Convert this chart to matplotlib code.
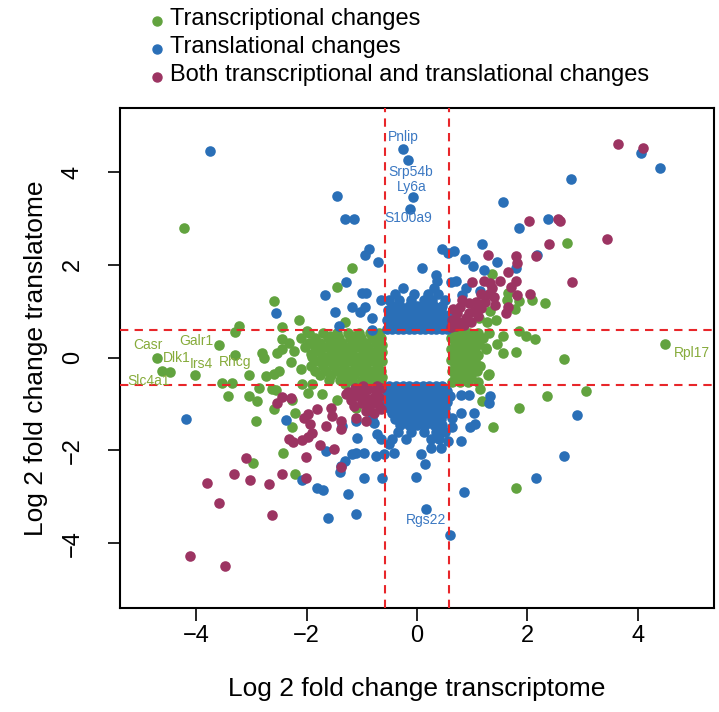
import numpy as np
import matplotlib
matplotlib.use("Agg")
import matplotlib.pyplot as plt

plt.rcParams['font.family'] = ['Liberation Sans', 'DejaVu Sans']

# ---- data (log2 fold changes) ----
cutoff = 0.585

labels = ["Transcriptional changes", "Translational changes",
          "Both transcriptional and translational changes"]
colors = ["#62a33f", "#2a6fb7", "#9c3462"]

# transcriptional changes: sparse points
green_pts = [
    (-4.22, 2.79), (-4.71, 0.0), (-4.62, -0.28), (-4.47, -0.32), (-3.59, 0.28),
    (-4.02, -0.37), (-3.30, 0.06), (-3.53, -0.54), (-3.35, -0.54), (-3.42, -0.84),
    (-3.22, 0.69), (-3.30, 0.56), (-3.04, -0.37), (-3.04, -0.82), (-2.90, -0.93),
    (-2.92, -1.36), (-2.59, -1.10), (-2.26, -0.91), (-2.21, -1.19), (-2.26, -1.49),
    (-2.43, -2.05), (-2.97, -2.27), (-2.21, -2.51), (-1.97, -0.76), (-1.72, -0.78),
    (-1.45, -0.91), (-1.11, -1.08), (-1.18, 1.92), (-1.45, 1.51), (-2.59, 1.21),
    (-2.14, 0.82), (-2.45, 0.65), (-1.99, 0.58), (-1.30, 0.76), (-2.81, 0.09),
    (-2.78, 0.0), (-2.74, -0.39), (-2.59, -0.35), (-2.50, -0.28), (-2.55, -0.71),
    (-2.62, -0.68), (-2.86, -0.65), (-2.45, 0.19), (-2.54, 0.09), (-2.28, -0.09),
    (-2.10, -0.24), (-2.08, -0.56), (-1.90, -0.56), (-2.45, 0.41), (-2.32, 0.32),
    (-2.23, 0.15),
    (4.49, 0.30), (2.66, -0.04), (3.06, -0.73), (2.36, -0.84), (2.32, 1.17),
    (2.08, 1.23), (2.14, 0.41), (1.97, 0.47), (1.85, 0.58), (1.85, -1.08),
    (1.38, -1.49), (1.79, -2.81), (1.29, -0.37), (1.79, 0.11), (1.56, 0.09),
    (1.56, 0.47), (1.45, 0.30), (1.18, -0.93), (1.14, -0.67), (1.25, 0.20),
    (2.72, 2.46), (1.85, 1.21), (1.78, 1.04), (1.65, 1.40), (1.63, 1.23),
    (1.36, 1.81), (1.32, 1.01), (1.43, 0.80), (1.27, 0.76), (1.12, 0.86),
    (1.30, -0.35),
]
# transcriptional changes: dense bands (y, list of x)
green_left_rows = [
    (0.52, [-1.95, -1.70, -1.45, -1.25, -1.05, -0.85, -0.68]),
    (0.47, [-1.58, -1.15, -0.76]),
    (0.42, [-2.10, -1.85, -1.62, -1.42, -1.22, -1.02, -0.82, -0.65]),
    (0.32, [-1.95, -1.75, -1.55, -1.35, -1.15, -0.95, -0.75]),
    (0.27, [-1.46, -1.05, -0.64]),
    (0.22, [-2.02, -1.85, -1.65, -1.45, -1.25, -1.05, -0.88, -0.68]),
    (0.12, [-1.75, -1.55, -1.38, -1.18, -0.98, -0.78, -0.63]),
    (0.07, [-1.92, -1.28, -0.86]),
    (0.02, [-1.90, -1.68, -1.48, -1.30, -1.10, -0.90, -0.70]),
    (-0.08, [-1.80, -1.60, -1.40, -1.20, -1.00, -0.80, -0.64]),
    (-0.13, [-1.52, -1.08, -0.70]),
    (-0.18, [-1.92, -1.70, -1.50, -1.32, -1.12, -0.92, -0.72]),
    (-0.28, [-1.85, -1.65, -1.45, -1.25, -1.05, -0.85, -0.66]),
    (-0.38, [-1.75, -1.55, -1.35, -1.15, -0.95, -0.75]),
    (-0.43, [-1.25, -0.85, -0.63]),
    (-0.48, [-1.60, -1.40, -1.20, -1.00, -0.80, -0.65]),
    (-0.56, [-1.30, -1.10, -0.90, -0.70]),
]
green_right_rows = [
    (0.52, [0.65, 0.80, 0.95, 1.10, 1.30]),
    (0.42, [0.62, 0.75, 0.90, 1.05, 1.20]),
    (0.30, [0.68, 0.82, 0.97, 1.12]),
    (0.18, [0.62, 0.75, 0.90, 1.05, 1.25]),
    (0.06, [0.66, 0.80, 0.95, 1.10]),
    (-0.06, [0.62, 0.75, 0.90, 1.05]),
    (-0.18, [0.68, 0.82, 0.97, 1.15]),
    (-0.30, [0.63, 0.77, 0.92, 1.08]),
    (-0.42, [0.68, 0.82, 0.97]),
    (-0.52, [0.64, 0.78, 0.92, 1.10]),
]

# translational changes: sparse points
blue_pts = [
    (-3.75, 4.45), (-0.25, 4.49), (-0.16, 4.25), (-0.07, 3.46), (-0.13, 3.20),
    (-1.45, 3.48), (-1.30, 2.98), (-1.14, 2.98), (-0.87, 2.35), (-0.94, 2.22),
    (-0.71, 2.07), (-1.29, 1.62), (-1.67, 1.34), (-1.00, 1.40), (-0.92, 1.40),
    (-2.55, 0.95), (-1.49, 0.99), (-1.18, 1.10), (-1.03, 0.99), (-0.94, 1.08),
    (-1.41, 0.69), (-0.82, 0.86), (-0.82, 0.60), (-0.65, 1.25),
    (2.79, 3.84), (1.56, 3.35), (1.85, 2.79), (2.37, 2.98), (4.06, 4.40),
    (4.40, 4.08), (1.18, 2.44), (1.45, 2.07), (2.17, 2.22), (0.87, 2.12),
    (1.01, 1.97), (1.21, 1.88), (0.45, 2.35), (0.56, 2.25), (0.67, 2.29),
    (0.09, 1.92), (0.34, 1.79), (0.36, 1.66), (0.62, 1.62), (0.70, 1.64),
    (1.79, 1.92), (0.89, 1.49), (0.82, 1.34), (1.14, 1.43),
    (-4.18, -1.32), (0.16, -3.26), (0.60, -3.83), (2.90, -1.23), (2.66, -2.12),
    (2.16, -2.59), (0.85, -2.89), (-0.02, -2.57), (0.14, -2.29), (0.07, -2.07),
    (0.80, -1.79), (0.80, -1.19), (1.03, -1.19), (0.96, -1.49), (1.05, -1.43),
    (1.32, -0.82), (1.30, -0.97), (0.94, -0.80), (0.80, -0.80), (0.63, -1.30),
    (0.63, -1.49), (0.56, -1.79), (0.43, -1.95), (0.25, -1.95),
    (-2.37, -1.34), (-1.61, -3.46), (-1.10, -3.37), (-1.25, -2.94), (-1.81, -2.81),
    (-1.70, -2.85), (-2.08, -2.64), (-0.96, -2.59), (-0.63, -2.59), (-1.39, -2.46),
    (-1.37, -2.33), (-1.30, -2.22), (-1.65, -2.01), (-1.18, -2.07), (-1.10, -2.05),
    (-0.96, -2.05), (-0.74, -2.12), (-0.60, -2.07), (-0.51, -1.86), (-0.42, -2.05),
    (-1.09, -1.73), (-0.72, -1.64), (-0.82, -1.30), (-0.78, -1.42), (-1.11, -1.36),
    (-1.36, -1.47), (-0.65, -1.75),
]
# translational changes: dense clusters (y, list of x)
blue_up_rows = [
    (0.62, [-0.55, -0.45, -0.35, -0.25, -0.15, -0.05, 0.05, 0.15, 0.25, 0.35, 0.45, 0.55]),
    (0.72, [-0.50, -0.40, -0.30, -0.20, -0.10, 0.00, 0.10, 0.20, 0.30, 0.40, 0.50, 0.60]),
    (0.82, [-0.55, -0.45, -0.35, -0.25, -0.15, -0.05, 0.05, 0.15, 0.25, 0.35, 0.45, 0.55]),
    (0.92, [-0.50, -0.38, -0.26, -0.14, -0.02, 0.10, 0.22, 0.34, 0.46, 0.58]),
    (1.02, [-0.52, -0.40, -0.28, -0.16, -0.04, 0.08, 0.20, 0.32, 0.44]),
    (1.12, [-0.45, -0.30, -0.15, 0.00, 0.15, 0.30, 0.45]),
    (1.24, [-0.50, -0.32, -0.10, 0.12, 0.28, 0.50]),
    (1.38, [-0.40, -0.05, 0.20, 0.38]),
    (1.50, [-0.25, 0.30]),
]
blue_down_rows = [
    (-0.62, [-0.50, -0.38, -0.26, -0.14, -0.02, 0.10, 0.22, 0.34, 0.46]),
    (-0.72, [-0.55, -0.45, -0.35, -0.25, -0.15, -0.05, 0.05, 0.15, 0.25, 0.35, 0.45, 0.55]),
    (-0.84, [-0.50, -0.40, -0.30, -0.20, -0.10, 0.00, 0.10, 0.20, 0.30, 0.40, 0.50, 0.60]),
    (-0.96, [-0.55, -0.45, -0.35, -0.25, -0.15, -0.05, 0.05, 0.15, 0.25, 0.35, 0.45, 0.55]),
    (-1.08, [-0.50, -0.40, -0.30, -0.20, -0.10, 0.00, 0.10, 0.20, 0.30, 0.40, 0.50]),
    (-1.20, [-0.45, -0.33, -0.21, -0.09, 0.03, 0.15, 0.27, 0.39, 0.51]),
    (-1.32, [-0.40, -0.28, -0.16, -0.04, 0.08, 0.20, 0.32, 0.44]),
    (-1.45, [-0.30, -0.15, 0.00, 0.15, 0.30, 0.45]),
    (-1.60, [-0.35, -0.10, 0.12, 0.35, 0.50]),
    (-1.75, [-0.45, -0.20, 0.25, 0.40]),
]

# both transcriptional and translational changes
both_pts = [
    (3.64, 4.60), (4.09, 4.51), (3.44, 2.55), (2.81, 1.62), (2.55, 2.98),
    (2.59, 2.94), (2.03, 2.94), (2.39, 2.44), (2.16, 2.18), (1.79, 2.18),
    (1.81, 2.03), (1.29, 2.20), (1.65, 1.84), (1.79, 1.66), (1.50, 1.64),
    (1.70, 1.51), (1.00, 1.62), (1.21, 1.66), (1.32, 1.60), (2.05, 1.38),
    (1.81, 1.34), (1.65, 1.08), (1.61, 0.97), (1.39, 1.30), (1.41, 1.14),
    (1.30, 1.38), (1.16, 1.38), (0.82, 1.23), (0.94, 1.17), (1.07, 1.19),
    (1.03, 1.01), (1.16, 1.06), (0.72, 0.95), (0.89, 0.86), (0.63, 0.80),
    (0.76, 0.76), (0.62, 0.65), (0.98, 0.76), (0.70, 0.68), (0.85, 0.70),
    (0.66, 1.05), (0.78, 1.08), (0.95, 0.95), (1.10, 0.90), (1.23, 1.20),
    (1.35, 1.50),
    (-4.11, -4.28), (-3.48, -4.49), (-3.80, -2.70), (-3.59, -3.13), (-3.32, -2.51),
    (-3.10, -2.16), (-3.03, -2.64), (-2.68, -2.72), (-2.63, -3.39), (-2.45, -2.51),
    (-2.01, -2.59), (-2.01, -2.14), (-2.45, -0.86), (-2.28, -0.88), (-2.54, -0.99),
    (-2.05, -1.30), (-1.98, -1.22), (-1.94, -1.43), (-1.81, -1.12), (-1.56, -1.08),
    (-1.54, -1.25), (-1.65, -1.47), (-1.38, -1.36), (-1.38, -1.53), (-1.90, -1.62),
    (-1.97, -1.71), (-2.08, -1.77), (-2.32, -1.75), (-2.25, -1.82), (-1.76, -1.88),
    (-1.50, -1.97), (-1.38, -2.35), (-1.29, -0.78), (-1.18, -0.86), (-1.11, -1.30),
    (-0.92, -1.36),
    (-0.65, -0.65), (-0.75, -0.72), (-0.88, -0.68), (-1.00, -0.70), (-1.12, -0.66),
    (-1.25, -0.75), (-0.68, -0.85), (-0.80, -0.88), (-0.95, -0.85), (-1.08, -0.82),
    (-1.20, -0.92), (-0.70, -1.00), (-0.85, -1.02), (-1.00, -0.98), (-0.65, -1.12),
    (-0.92, -1.15), (-0.78, -1.20), (-1.15, -1.05), (-0.72, -0.62), (-0.98, -0.62),
]

# labelled genes: name, x, y, group
gene_labels = [
    ("Pnlip", -0.24, 4.75, 1), ("Srp54b", -0.11, 4.00, 1), ("Ly6a", -0.09, 3.67, 1),
    ("S100a9", -0.16, 3.00, 1), ("Rgs22", 0.16, -3.50, 1),
    ("Casr", -4.87, 0.26, 0), ("Dlk1", -4.35, 0.0, 0), ("Galr1", -4.00, 0.35, 0),
    ("Irs4", -3.90, -0.15, 0), ("Rhcg", -3.30, -0.10, 0), ("Slc4a1", -4.86, -0.50, 0),
    ("Rpl17", 4.98, 0.09, 0),
]
label_colors = ["#86ab3a", "#3b78c2"]


def rows_to_xy(rows):
    xs, ys = [], []
    for y, row in rows:
        xs += row
        ys += [y] * len(row)
    return xs, ys


def pts_to_xy(pts):
    return [p[0] for p in pts], [p[1] for p in pts]


gx1, gy1 = pts_to_xy(green_pts)
gx2, gy2 = rows_to_xy(green_left_rows)
gx3, gy3 = rows_to_xy(green_right_rows)
green_x, green_y = gx1 + gx2 + gx3, gy1 + gy2 + gy3

bx1, by1 = pts_to_xy(blue_pts)
bx2, by2 = rows_to_xy(blue_up_rows)
bx3, by3 = rows_to_xy(blue_down_rows)
blue_x, blue_y = bx1 + bx2 + bx3, by1 + by2 + by3

both_x, both_y = pts_to_xy(both_pts)

# ---- plot ----
fig = plt.figure(figsize=(7.19, 7.12), dpi=100)
ax = fig.add_axes([120 / 719, 1 - 608 / 712, 594 / 719, 500 / 712])

ms = 58
ax.scatter(green_x, green_y, s=ms, color=colors[0], linewidths=0, zorder=2)
ax.scatter(blue_x, blue_y, s=ms, color=colors[1], linewidths=0, zorder=3)
ax.scatter(both_x, both_y, s=ms, color=colors[2], linewidths=0, zorder=4)

for v in (-cutoff, cutoff):
    ax.axvline(v, color="#e8262a", lw=1.5, ls=(0, (4, 3)), zorder=5)
    ax.axhline(v, color="#e8262a", lw=1.5, ls=(0, (4, 3)), zorder=5)

for name, x, y, g in gene_labels:
    ax.text(x, y, name, color=label_colors[g], fontsize=10, ha="center", va="center", zorder=6)

ax.set_xlim(-5.38, 5.38)
ax.set_ylim(-5.4, 5.38)
ax.set_xticks([-4, -2, 0, 2, 4])
ax.set_yticks([-4, -2, 0, 2, 4])
ax.tick_params(length=9, width=1.2, labelsize=17)
ax.tick_params(axis="x", pad=3)
ax.tick_params(axis="y", pad=17)
for lab in ax.get_yticklabels():
    lab.set_rotation(90)
    lab.set_va("center")
for sp in ax.spines.values():
    sp.set_linewidth(1.5)

ax.set_xlabel("Log 2 fold change transcriptome", fontsize=19, labelpad=22)
ax.set_ylabel("Log 2 fold change translatome", fontsize=19, labelpad=10)

# legend above the plot
for i, (lab, c) in enumerate(zip(labels, colors)):
    yy = 1 - (19 + 28 * i) / 712
    fig.add_artist(plt.Line2D([157 / 719], [yy - 2 / 712], marker="o", markersize=6.5, color=c,
                              linestyle="none", transform=fig.transFigure))
    fig.text(170 / 719, yy, lab, fontsize=17, va="center", ha="left")

fig.savefig("out.png", dpi=100)
